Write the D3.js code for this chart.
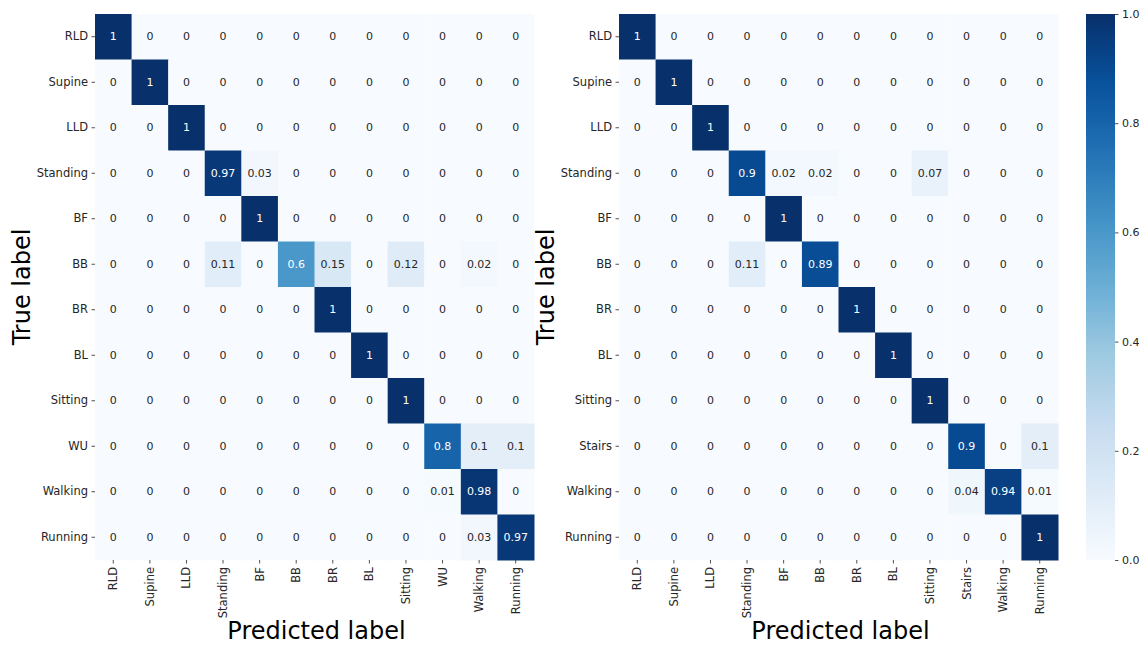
<!DOCTYPE html>
<html>
<head>
<meta charset="utf-8">
<script src="https://cdn.jsdelivr.net/npm/d3@7"></script>
<style>
  html, body { margin: 0; padding: 0; background: #ffffff; }
  svg { display: block; font-family: "DejaVu Sans", sans-serif; }
</style>
</head>
<body>
<svg id="chart" width="1144" height="646"></svg>
<script>
// Class labels for each confusion matrix
const labelsLeft = ["RLD", "Supine", "LLD", "Standing", "BF", "BB", "BR", "BL", "Sitting", "WU", "Walking", "Running"];
const labelsRight = ["RLD", "Supine", "LLD", "Standing", "BF", "BB", "BR", "BL", "Sitting", "Stairs", "Walking", "Running"];

// Normalised confusion matrix, rows = true label, columns = predicted label
const matrixLeft = [
  [1, 0, 0, 0, 0, 0, 0, 0, 0, 0, 0, 0],
  [0, 1, 0, 0, 0, 0, 0, 0, 0, 0, 0, 0],
  [0, 0, 1, 0, 0, 0, 0, 0, 0, 0, 0, 0],
  [0, 0, 0, 0.97, 0.03, 0, 0, 0, 0, 0, 0, 0],
  [0, 0, 0, 0, 1, 0, 0, 0, 0, 0, 0, 0],
  [0, 0, 0, 0.11, 0, 0.6, 0.15, 0, 0.12, 0, 0.02, 0],
  [0, 0, 0, 0, 0, 0, 1, 0, 0, 0, 0, 0],
  [0, 0, 0, 0, 0, 0, 0, 1, 0, 0, 0, 0],
  [0, 0, 0, 0, 0, 0, 0, 0, 1, 0, 0, 0],
  [0, 0, 0, 0, 0, 0, 0, 0, 0, 0.8, 0.1, 0.1],
  [0, 0, 0, 0, 0, 0, 0, 0, 0, 0.01, 0.98, 0],
  [0, 0, 0, 0, 0, 0, 0, 0, 0, 0, 0.03, 0.97]
];

const matrixRight = [
  [1, 0, 0, 0, 0, 0, 0, 0, 0, 0, 0, 0],
  [0, 1, 0, 0, 0, 0, 0, 0, 0, 0, 0, 0],
  [0, 0, 1, 0, 0, 0, 0, 0, 0, 0, 0, 0],
  [0, 0, 0, 0.9, 0.02, 0.02, 0, 0, 0.07, 0, 0, 0],
  [0, 0, 0, 0, 1, 0, 0, 0, 0, 0, 0, 0],
  [0, 0, 0, 0.11, 0, 0.89, 0, 0, 0, 0, 0, 0],
  [0, 0, 0, 0, 0, 0, 1, 0, 0, 0, 0, 0],
  [0, 0, 0, 0, 0, 0, 0, 1, 0, 0, 0, 0],
  [0, 0, 0, 0, 0, 0, 0, 0, 1, 0, 0, 0],
  [0, 0, 0, 0, 0, 0, 0, 0, 0, 0.9, 0, 0.1],
  [0, 0, 0, 0, 0, 0, 0, 0, 0, 0.04, 0.94, 0.01],
  [0, 0, 0, 0, 0, 0, 0, 0, 0, 0, 0, 1]
];

const colorbarTicks = [0, 0.2, 0.4, 0.6, 0.8, 1.0];

// ColorBrewer "Blues" anchors, linearly interpolated
const bluesStops = ["#f7fbff", "#deebf7", "#c6dbef", "#9ecae1", "#6baed6", "#4292c6", "#2171b5", "#08519c", "#08306b"];
const color = d3.scaleLinear()
  .domain(d3.range(bluesStops.length).map(i => i / (bluesStops.length - 1)))
  .range(bluesStops)
  .interpolate(d3.interpolateRgb)
  .clamp(true);

const svg = d3.select("#chart");
const textDark = "#262626";
const annotSize = 11;
const tickSize = 11.5;
const titleSize = 24;

// Relative luminance used to pick annotation colour
function luminance(c) {
  const rgb = d3.rgb(c);
  const f = v => {
    v /= 255;
    return v <= 0.03928 ? v / 12.92 : Math.pow((v + 0.055) / 1.055, 2.4);
  };
  return 0.2126 * f(rgb.r) + 0.7152 * f(rgb.g) + 0.0722 * f(rgb.b);
}

const fmt = v => d3.format(".2~g")(v);

function drawMatrix(x0, y0, w, h, labels, matrix, labelX) {
  const g = svg.append("g").attr("transform", `translate(${x0},${y0})`);
  const x = d3.scaleBand().domain(labels).range([0, w]);
  const y = d3.scaleBand().domain(labels).range([0, h]);

  const cells = [];
  matrix.forEach((row, i) => row.forEach((v, j) => cells.push({ r: labels[i], c: labels[j], v })));

  g.selectAll("rect.cell").data(cells).join("rect")
    .attr("class", "cell")
    .attr("x", d => x(d.c))
    .attr("y", d => y(d.r))
    .attr("width", x.bandwidth() + 0.5)
    .attr("height", y.bandwidth() + 0.5)
    .attr("fill", d => color(d.v));

  g.selectAll("text.annot").data(cells).join("text")
    .attr("class", "annot")
    .attr("x", d => x(d.c) + x.bandwidth() / 2)
    .attr("y", d => y(d.r) + y.bandwidth() / 2)
    .attr("text-anchor", "middle")
    .attr("dominant-baseline", "central")
    .attr("font-size", annotSize)
    .attr("fill", d => luminance(color(d.v)) > 0.408 ? textDark : "#ffffff")
    .text(d => fmt(d.v));

  // Y axis: true labels
  const yAxis = g.append("g").call(d3.axisLeft(y).tickSize(3.5).tickPadding(3.5));
  yAxis.select(".domain").remove();
  yAxis.selectAll(".tick line").attr("stroke", textDark).attr("stroke-width", 0.8);
  yAxis.selectAll(".tick text").attr("font-size", tickSize).attr("fill", textDark)
    .attr("font-family", "DejaVu Sans, sans-serif");

  // X axis: predicted labels, rotated
  const xAxis = g.append("g").attr("transform", `translate(0,${h})`)
    .call(d3.axisBottom(x).tickSize(3.5).tickPadding(3.5));
  xAxis.select(".domain").remove();
  xAxis.selectAll(".tick line").attr("stroke", textDark).attr("stroke-width", 0.8);
  xAxis.selectAll(".tick text")
    .attr("font-size", tickSize).attr("fill", textDark)
    .attr("font-family", "DejaVu Sans, sans-serif")
    .attr("transform", "rotate(-90)")
    .attr("text-anchor", "end")
    .attr("dy", "0.35em")
    .attr("x", -7)
    .attr("y", 0);

  // Axis titles
  svg.append("text")
    .attr("x", x0 + w / 2 + 2)
    .attr("y", 639)
    .attr("text-anchor", "middle")
    .attr("font-size", titleSize)
    .attr("fill", "#000")
    .text("Predicted label");

  svg.append("text")
    .attr("transform", `translate(${labelX},${y0 + h / 2}) rotate(-90)`)
    .attr("text-anchor", "middle")
    .attr("font-size", titleSize)
    .attr("fill", "#000")
    .text("True label");
}

const plotTop = 14, plotH = 546, plotW = 439;
drawMatrix(95, plotTop, plotW, plotH, labelsLeft, matrixLeft, 30);
drawMatrix(619, plotTop, plotW, plotH, labelsRight, matrixRight, 554);

// Colour bar
const cbX = 1086, cbW = 29;
const defs = svg.append("defs");
const grad = defs.append("linearGradient")
  .attr("id", "bluesGrad")
  .attr("x1", 0).attr("y1", 1).attr("x2", 0).attr("y2", 0);
grad.selectAll("stop").data(d3.range(0, 1.0001, 0.02)).join("stop")
  .attr("offset", d => d)
  .attr("stop-color", d => color(d));

svg.append("rect")
  .attr("x", cbX).attr("y", plotTop)
  .attr("width", cbW).attr("height", plotH)
  .attr("fill", "url(#bluesGrad)");

const cbScale = d3.scaleLinear().domain([0, 1]).range([plotTop + plotH, plotTop]);
const cbAxis = svg.append("g").attr("transform", `translate(${cbX + cbW},0)`)
  .call(d3.axisRight(cbScale).tickValues(colorbarTicks).tickFormat(d3.format(".1f")).tickSize(3.5).tickPadding(3.5));
cbAxis.select(".domain").remove();
cbAxis.selectAll(".tick line").attr("stroke", textDark).attr("stroke-width", 0.8);
cbAxis.selectAll(".tick text").attr("font-size", annotSize).attr("fill", textDark)
  .attr("font-family", "DejaVu Sans, sans-serif");
</script>
</body>
</html>
